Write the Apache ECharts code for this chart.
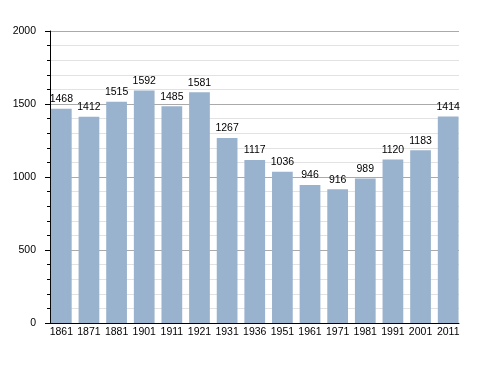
<!DOCTYPE html>
<html><head><meta charset="utf-8">
<script src="https://cdn.jsdelivr.net/npm/echarts@6/dist/echarts.min.js"></script>
<style>html,body{margin:0;padding:0;background:#fff}#c{width:488px;height:373px}</style>
</head><body><div id="c"></div>
<script>
const years = ['1861','1871','1881','1901','1911','1921','1931','1936','1951','1961','1971','1981','1991','2001','2011'];
const population = [1468,1412,1515,1592,1485,1581,1267,1117,1036,946,916,989,1120,1183,1414];
const yTicks = [0,500,1000,1500,2000];

const yMin = yTicks[0], yMax = yTicks[yTicks.length-1];
const chart = echarts.init(document.getElementById('c'), null, {renderer:'canvas'});
chart.setOption({
  animation:false,
  textStyle:{fontFamily:'Liberation Sans, Arial, sans-serif'},
  grid:[
    {left:50,right:29,top:31,bottom:50,containLabel:false},
    {left:47.5,right:26,top:31,bottom:50,containLabel:false}
  ],
  xAxis:[{
    gridIndex:0, type:'category', data:years,
    axisLine:{lineStyle:{color:'#000',width:1}},
    axisTick:{show:false}, axisLabel:{show:false}
  },{
    gridIndex:1, type:'category', data:years,
    axisLine:{show:false},
    axisTick:{show:false},
    axisLabel:{color:'#000',fontSize:10.5,margin:4,interval:0}
  }],
  yAxis:[{
    gridIndex:0, type:'value', min:yMin, max:yMax, interval:500,
    axisLine:{show:true,lineStyle:{color:'#000',width:1}},
    axisTick:{show:true,length:5,lineStyle:{color:'#000'}},
    minorTick:{show:true,splitNumber:5,length:3,lineStyle:{color:'#000'}},
    axisLabel:{color:'#000',fontSize:10.5,margin:14,formatter:v=>String(v)},
    splitLine:{show:true,lineStyle:{color:'#aaaaaa',width:1}},
    minorSplitLine:{show:true,lineStyle:{color:'#e2e2e2',width:1}}
  },{
    gridIndex:1, type:'value', min:yMin, max:yMax, interval:500, show:false,
    splitLine:{show:false}
  }],
  series:[{
    type:'bar', xAxisIndex:1, yAxisIndex:1, data:population, barCategoryGap:'25%',
    itemStyle:{color:'#99b2cd'},
    label:{show:true,position:'top',color:'#000',fontSize:10.5,distance:4}
  }]
});
</script></body></html>
